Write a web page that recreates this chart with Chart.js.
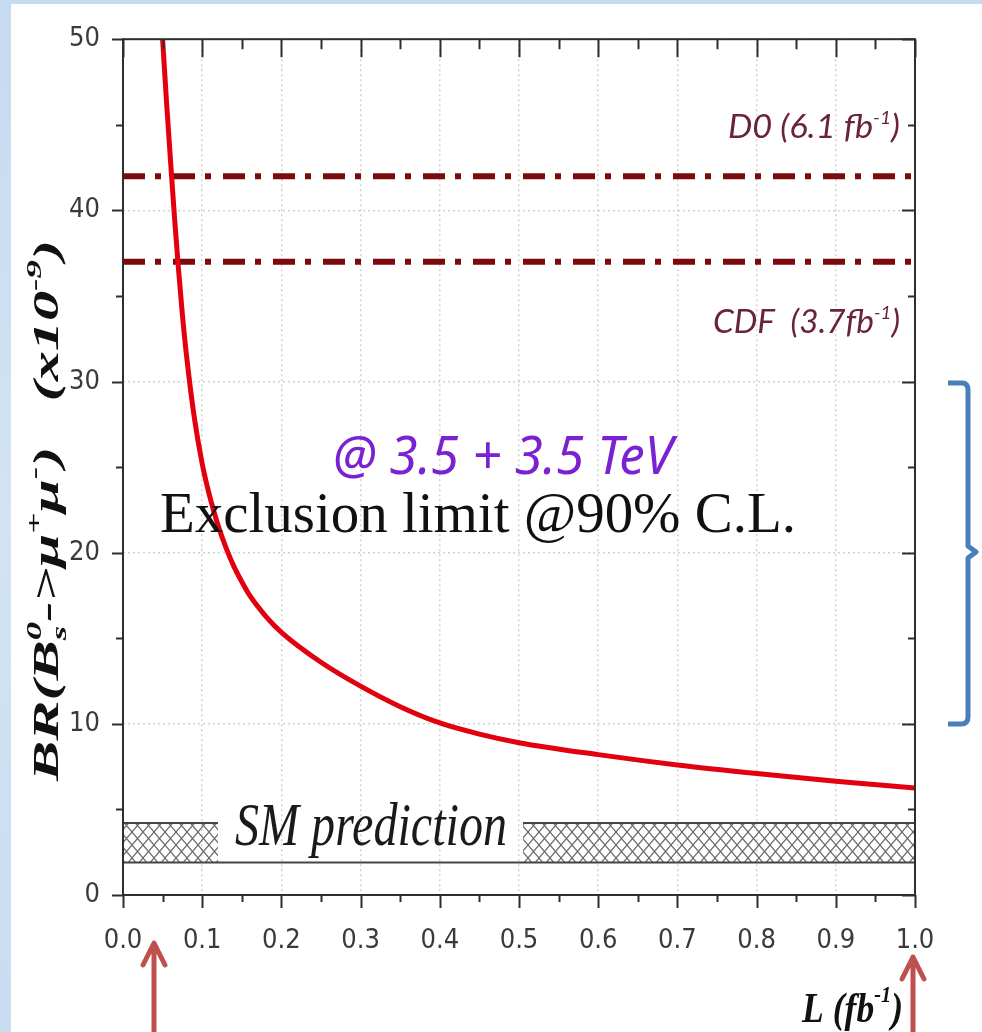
<!DOCTYPE html>
<html>
<head>
<meta charset="utf-8">
<script src="https://cdn.jsdelivr.net/npm/chart.js@4/dist/chart.umd.min.js"></script>
<style>
  html, body { margin: 0; padding: 0; background: #fff; }
  canvas { display: block; }
</style>
</head>
<body>
<canvas id="c" width="982" height="1032" style="width:982px;height:1032px"></canvas>
<script>
// Expected 90% C.L. exclusion limit on BR(Bs -> mu mu) vs integrated luminosity
const L_VALUES = [0.05, 0.055, 0.06, 0.065, 0.07, 0.075, 0.08, 0.09, 0.10, 0.11, 0.12, 0.13, 0.14,
                  0.15, 0.16, 0.18, 0.20, 0.25, 0.30, 0.35, 0.40, 0.45, 0.50, 0.60, 0.70, 0.80,
                  0.90, 1.00];
const BR_LIMIT = [50, 46.3, 42.9, 39.6, 36.6, 33.9, 31.6, 27.9, 25.2, 23.2, 21.6, 20.3, 19.2,
                  18.3, 17.5, 16.3, 15.35, 13.6, 12.2, 11.0, 10.05, 9.4, 8.9, 8.2, 7.6, 7.1,
                  6.65, 6.25];

// Tevatron limits (x10^-9)
const D0_LIMIT = 42;
const CDF_LIMIT = 37;

// Standard Model prediction band (x10^-9)
const SM_BAND = [1.9, 4.2];

// Tick labels
const X_TICK_LABELS = ['0.0', '0.1', '0.2', '0.3', '0.4', '0.5', '0.6', '0.7', '0.8', '0.9', '1.0'];
const Y_TICK_LABELS = ['0', '10', '20', '30', '40', '50'];

// where the band is interrupted for its caption (in L units)
const SM_CAPTION_GAP = [0.12, 0.505];

const TICK_FONT = '"Liberation Sans Narrow", "Arial Narrow", "DejaVu Sans Condensed", "Liberation Sans", sans-serif';

// cross-hatch used for the SM band
function makeHatch() {
  const c = document.createElement('canvas');
  c.width = 11; c.height = 13;
  const g = c.getContext('2d');
  g.strokeStyle = '#6a6a6a';
  g.lineWidth = 1.2;
  g.beginPath();
  g.moveTo(0, 0); g.lineTo(11, 13);
  g.moveTo(11, 0); g.lineTo(0, 13);
  g.stroke();
  return g.createPattern(c, 'repeat');
}
const hatch = makeHatch();

// draws a run of text pieces (with sub/superscripts) squeezed to a given length
function richText(ctx, parts, x, y, width, angle) {
  ctx.save();
  ctx.textAlign = 'left';
  ctx.textBaseline = 'alphabetic';
  let total = 0;
  const widths = parts.map(p => {
    ctx.font = p.f;
    const w = ctx.measureText(p.t).width;
    if (!p.noAdv) total += w;
    return w;
  });
  ctx.translate(x, y);
  if (angle) ctx.rotate(angle);
  ctx.scale(width / total, 1);
  let cx = 0;
  parts.forEach((p, i) => {
    ctx.font = p.f;
    ctx.fillStyle = p.c || '#111';
    ctx.fillText(p.t, cx, p.dy || 0);
    if (!p.noAdv) cx += widths[i];
  });
  ctx.restore();
}

function arrowUp(ctx, x, tipY, bottomY) {
  ctx.save();
  ctx.strokeStyle = '#c0504d';
  ctx.lineWidth = 5;
  ctx.lineCap = 'round';
  ctx.lineJoin = 'round';
  ctx.beginPath();
  ctx.moveTo(x, bottomY);
  ctx.lineTo(x, tipY + 2);
  ctx.moveTo(x - 11, tipY + 22);
  ctx.lineTo(x, tipY);
  ctx.lineTo(x + 11, tipY + 22);
  ctx.stroke();
  ctx.restore();
}

const decor = {
  id: 'decor',
  beforeDraw(chart) {
    const { ctx, width, height } = chart;
    ctx.save();
    const grad = ctx.createLinearGradient(0, 0, 0, height);
    grad.addColorStop(0, '#c6daf0');
    grad.addColorStop(0.5, '#d3e3f4');
    grad.addColorStop(1, '#c9dcf1');
    ctx.fillStyle = grad;
    ctx.fillRect(0, 0, width, height);
    ctx.fillStyle = '#ffffff';
    ctx.fillRect(11, 4, width - 11, height - 4);
    ctx.restore();
  },
  afterDatasetsDraw(chart) {
    const { ctx, chartArea: a, scales: { x, y } } = chart;
    ctx.save();
    ctx.strokeStyle = '#2e2e2e';
    ctx.lineWidth = 2;
    ctx.strokeRect(a.left, a.top, a.right - a.left, a.bottom - a.top);
    ctx.beginPath();
    for (let i = 0; i <= 20; i++) {
      const px = Math.round(x.getPixelForValue(i / 20)) + 0.5;
      const major = i % 2 === 0;
      ctx.moveTo(px, a.bottom); ctx.lineTo(px, a.bottom + (major ? 13 : 7));
      ctx.moveTo(px, a.top); ctx.lineTo(px, a.top + (major ? 18 : 10));
    }
    for (let i = 0; i <= 10; i++) {
      const py = Math.round(y.getPixelForValue(i * 5)) + 0.5;
      const major = i % 2 === 0;
      ctx.moveTo(a.left - (major ? 11 : 7), py); ctx.lineTo(a.left, py);
      ctx.moveTo(a.right - (major ? 13 : 7), py); ctx.lineTo(a.right, py);
    }
    ctx.stroke();
    ctx.restore();
  },
  afterDraw(chart) {
    const { ctx } = chart;
    const SERIF = '"Liberation Serif", "Times New Roman", serif';
    const HAND = 'Lato, "Noto Sans", sans-serif';
    const LBL = '#6a2438';

    // experiment labels
    richText(ctx, [
      { t: 'D0 (6.1 fb', f: 'italic 32px ' + HAND, c: LBL },
      { t: '-1', f: 'italic 18px ' + HAND, c: LBL, dy: -14 },
      { t: ')', f: 'italic 32px ' + HAND, c: LBL }
    ], 728, 138, 172);
    richText(ctx, [
      { t: 'CDF  (3.7fb', f: 'italic 32px ' + HAND, c: LBL },
      { t: '-1', f: 'italic 18px ' + HAND, c: LBL, dy: -14 },
      { t: ')', f: 'italic 32px ' + HAND, c: LBL }
    ], 713, 333, 187);

    // energy and confidence level captions
    richText(ctx, [{ t: '@ 3.5 + 3.5 TeV', f: 'italic 52px "Noto Sans", sans-serif', c: '#7a22d2' }],
      333, 474, 340);
    richText(ctx, [{ t: 'Exclusion limit @90% C.L.', f: '56px ' + SERIF, c: '#111' }],
      160, 532, 636);
    richText(ctx, [{ t: 'SM prediction', f: 'italic 62px ' + SERIF, c: '#1a1a1a' }],
      235, 845, 272);

    // axis titles
    const B = 'bold italic 36px ' + SERIF;
    const S = 'bold italic 22px ' + SERIF;
    richText(ctx, [
      { t: 'BR(B', f: B }, { t: 's', f: S, dy: 8, noAdv: true }, { t: '0', f: S, dy: -17 },
      { t: '->', f: B }, { t: '\u03bc', f: B }, { t: '+', f: S, dy: -17 },
      { t: '\u03bc', f: B }, { t: '-', f: S, dy: -17 }, { t: ')', f: B },
      { t: '   (x10', f: B }, { t: '-9', f: S, dy: -17 }, { t: ')', f: B }
    ], 58, 781, 541, -Math.PI / 2);
    richText(ctx, [
      { t: 'L (fb', f: 'bold italic 42px ' + SERIF },
      { t: '-1', f: 'bold italic 24px ' + SERIF, dy: -20 },
      { t: ')', f: 'bold italic 42px ' + SERIF }
    ], 802, 1022, 101);

    // pointers under the axis
    arrowUp(ctx, 154, 943, 1034);
    arrowUp(ctx, 913, 957, 1034);

    // brace on the right
    ctx.save();
    ctx.strokeStyle = '#4a7ebb';
    ctx.lineWidth = 5;
    ctx.lineJoin = 'round';
    ctx.beginPath();
    ctx.moveTo(948, 383);
    ctx.lineTo(962, 383);
    ctx.quadraticCurveTo(968, 383, 968, 390);
    ctx.lineTo(968, 546);
    ctx.lineTo(976, 552);
    ctx.lineTo(968, 558);
    ctx.lineTo(968, 717);
    ctx.quadraticCurveTo(968, 724, 961, 724);
    ctx.lineTo(948, 724);
    ctx.stroke();
    ctx.restore();
  }
};

const limitCurve = L_VALUES.map((l, i) => ({ x: l, y: BR_LIMIT[i] }));
const flat = (v, x0, x1) => [{ x: x0, y: v }, { x: x1, y: v }];

new Chart(document.getElementById('c'), {
  type: 'line',
  data: {
    datasets: [
      {
        data: limitCurve,
        borderColor: '#e2000e',
        borderWidth: 5,
        pointRadius: 0,
        cubicInterpolationMode: 'monotone',
        fill: false
      },
      {
        data: flat(D0_LIMIT, 0, 1),
        borderColor: '#7c0a0c',
        borderWidth: 6,
        borderDash: [22, 10, 6, 12],
        borderCapStyle: 'butt',
        pointRadius: 0,
        fill: false
      },
      {
        data: flat(CDF_LIMIT, 0, 1),
        borderColor: '#7c0a0c',
        borderWidth: 6,
        borderDash: [22, 10, 6, 12],
        borderCapStyle: 'butt',
        pointRadius: 0,
        fill: false
      },
      {
        data: flat(SM_BAND[0], 0, 1),
        borderColor: '#454545',
        borderWidth: 2,
        pointRadius: 0,
        fill: false
      },
      {
        data: flat(SM_BAND[1], 0, SM_CAPTION_GAP[0]),
        borderColor: '#454545',
        borderWidth: 2,
        pointRadius: 0,
        backgroundColor: hatch,
        fill: { value: SM_BAND[0] }
      },
      {
        data: flat(SM_BAND[1], SM_CAPTION_GAP[1], 1),
        borderColor: '#454545',
        borderWidth: 2,
        pointRadius: 0,
        backgroundColor: hatch,
        fill: { value: SM_BAND[0] }
      }
    ]
  },
  options: {
    responsive: false,
    animation: false,
    devicePixelRatio: 1,
    layout: { padding: { left: 0, right: 67, top: 32, bottom: 0 } },
    plugins: { legend: { display: false }, tooltip: { enabled: false } },
    scales: {
      x: {
        type: 'linear',
        min: 0,
        max: 1,
        afterFit(s) { s.height = 137; },
        ticks: {
          stepSize: 0.1,
          autoSkip: false,
          maxRotation: 0,
          padding: 30,
          color: '#3a3a3a',
          font: { family: TICK_FONT, size: 27 },
          callback: v => X_TICK_LABELS[Math.round(v * 10)]
        },
        grid: { color: '#d2d2d2', lineWidth: 1.5, drawTicks: false },
        border: { display: false, dash: [2, 3] }
      },
      y: {
        min: 0,
        max: 50,
        afterFit(s) { s.width = 123; },
        ticks: {
          stepSize: 10,
          padding: 23,
          color: '#3a3a3a',
          font: { family: TICK_FONT, size: 27 },
          callback: v => Y_TICK_LABELS[Math.round(v / 10)]
        },
        grid: { color: '#d2d2d2', lineWidth: 1.5, drawTicks: false },
        border: { display: false, dash: [2, 3] }
      }
    }
  },
  plugins: [decor]
});
</script>
</body>
</html>
